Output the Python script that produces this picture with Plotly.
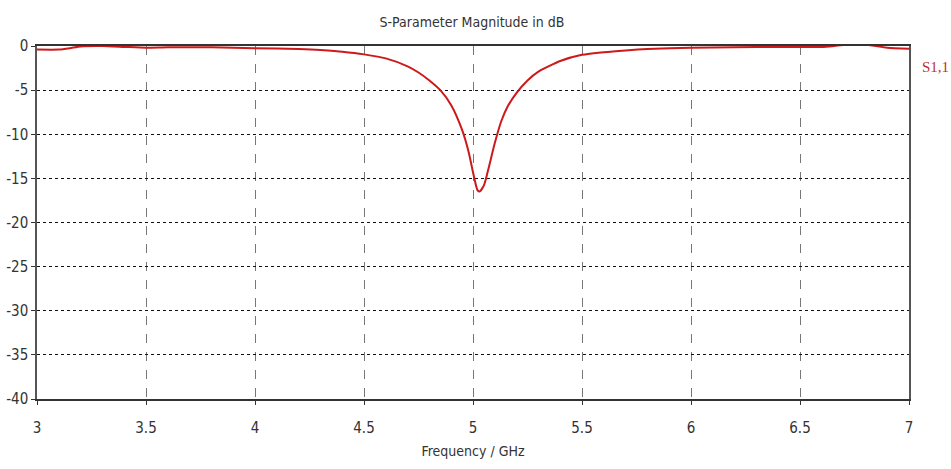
import plotly.graph_objects as go

freq_ghz = [3.0, 3.1, 3.15, 3.2, 3.3, 3.4, 3.5, 3.6, 3.8, 4.0, 4.2, 4.3, 4.4, 4.5, 4.6, 4.7,
            4.75, 4.8, 4.85, 4.9, 4.95, 4.98, 5.0, 5.02, 5.03, 5.05, 5.07, 5.1, 5.13, 5.16,
            5.2, 5.25, 5.3, 5.4, 5.5, 5.6, 5.7, 5.8, 6.0, 6.2, 6.4, 6.6, 6.7, 6.8, 6.9, 7.0]
s11_db = [-0.4, -0.4, -0.25, -0.05, 0.0, -0.1, -0.2, -0.15, -0.15, -0.25, -0.35, -0.45, -0.65, -0.95, -1.4, -2.3,
          -3.0, -3.9, -5.0, -6.7, -9.5, -12.0, -14.3, -16.3, -16.5, -15.8, -14.0, -11.0, -8.5, -6.8,
          -5.3, -3.9, -2.9, -1.7, -1.0, -0.7, -0.5, -0.35, -0.2, -0.15, -0.1, -0.1, 0.1, 0.15, -0.2, -0.3]

x_ticks = [3, 3.5, 4, 4.5, 5, 5.5, 6, 6.5, 7]
x_tick_labels = ["3", "3.5", "4", "4.5", "5", "5.5", "6", "6.5", "7"]
y_ticks = [0, -5, -10, -15, -20, -25, -30, -35, -40]
y_tick_labels = ["0", "-5", "-10", "-15", "-20", "-25", "-30", "-35", "-40"]

font_fam = "DejaVu Sans, sans-serif"

fig = go.Figure()
fig.add_trace(go.Scatter(x=freq_ghz, y=s11_db, mode="lines",
                         line=dict(color="#cc1a1a", width=2, shape="spline", smoothing=0.6),
                         showlegend=False))

fig.update_layout(
    width=951, height=469,
    margin=dict(l=37, r=42, t=46, b=70),
    paper_bgcolor="white", plot_bgcolor="white",
    font=dict(family=font_fam, color="#333333", size=15),
    title=dict(text="S-Parameter Magnitude in dB", x=472/951, xanchor="center",
               y=1 - 22/469, yanchor="middle", font=dict(size=14, color="#333333")),
    xaxis=dict(range=[3, 7], tickvals=x_ticks, ticktext=x_tick_labels,
               showgrid=True, gridcolor="#777777", griddash="dash", gridwidth=1,
               showline=True, linecolor="#333333", linewidth=1.5, mirror=True,
               ticks="outside", ticklen=4, tickcolor="#333333",
               ticklabelstandoff=10, automargin=False,
               zeroline=False,
               title=dict(text="Frequency / GHz", font=dict(size=14), standoff=10)),
    yaxis=dict(range=[-40, 0], tickvals=y_ticks, ticktext=y_tick_labels,
               showgrid=True, gridcolor="#111111", griddash="dot", gridwidth=1,
               showline=True, linecolor="#555555", linewidth=1.5, mirror=True,
               ticks="outside", ticklen=4, tickcolor="#333333",
               automargin=False,
               zeroline=False),
    annotations=[dict(text="S1,1", xref="paper", yref="paper",
                      x=1.0, y=1 - 21/353, xanchor="left", yanchor="middle", xshift=11,
                      showarrow=False,
                      font=dict(family="Liberation Serif, serif", size=15, color="#c03030"))],
)

post = (
    "document.body.style.margin='0';document.body.style.overflow='hidden';"
    "var st=document.createElement('style');"
    "st.textContent='.main-svg text{font-stretch:condensed !important;}';"
    "document.head.appendChild(st);"
)
fig.write_html("out.html", post_script=post, config={"displayModeBar": False})
